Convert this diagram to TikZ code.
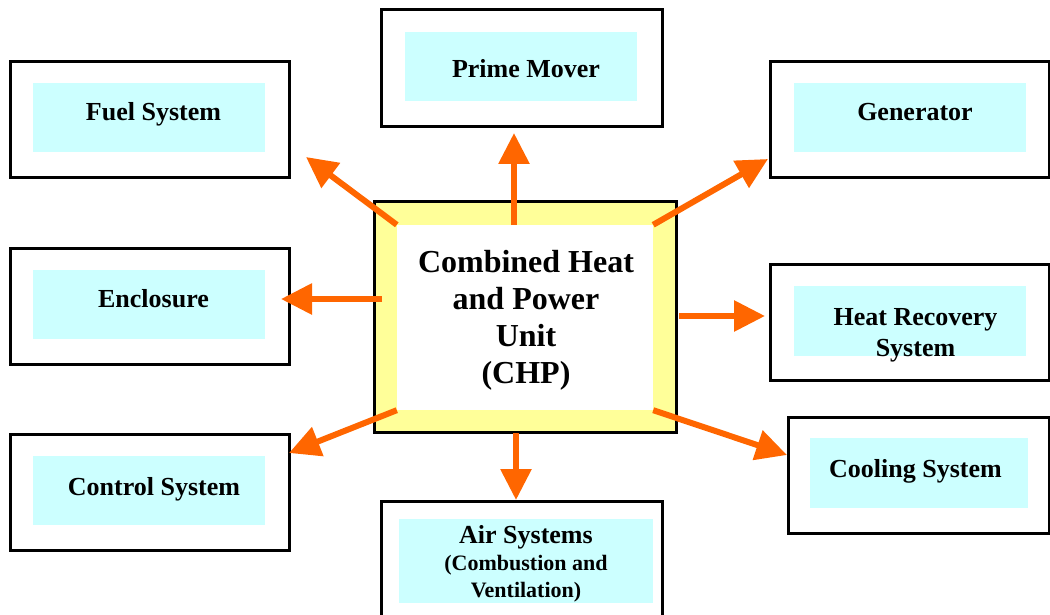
\documentclass[tikz,border=0pt]{standalone}
\usepackage{fontspec}
\setmainfont{Liberation Serif}
\usetikzlibrary{arrows.meta}
\definecolor{chporange}{HTML}{FF6600}
\definecolor{chpyellow}{HTML}{FFFF99}
\definecolor{chpcyan}{HTML}{CCFFFF}

\begin{document}
\begin{tikzpicture}[x=1pt, y=-1pt,
  frame/.style={draw, line width=3pt, fill=white, inner sep=0pt, minimum width=279pt, minimum height=116pt},
  panel/.style={fill=chpcyan, inner sep=0pt, minimum width=232pt, minimum height=69pt},
  lbl/.style={font=\fontsize{26}{31}\selectfont\bfseries, anchor=base, inner sep=0pt},
  flow/.style={chporange, line width=6pt, -{Triangle[length=31pt, width=30pt]}}]

  \useasboundingbox (0,0) rectangle (1050,615);

  % 中间的CHP
  \node[draw, line width=3pt, fill=chpyellow, inner sep=0pt, minimum width=302pt, minimum height=231pt] (chp) at (525,316.5) {};
  \node[fill=white, inner sep=0pt, minimum width=256pt, minimum height=185pt] (chpin) at (525,317.5) {};
  \node[font=\fontsize{32}{37}\selectfont\bfseries, align=center, inner sep=0pt] (chptxt) at (526,320) {Combined Heat\\and Power\\Unit\\(CHP)};

  % 周围八个框
  \node[frame] (fuelbox) at (149.5,120) {};
  \node[panel] (fuelbg) at (149,118) {};
  \node[lbl] (fuel) at (153.5,121) {Fuel System};

  \node[frame, minimum width=281pt, minimum height=117pt] (primebox) at (521.5,68.5) {};
  \node[panel] (primebg) at (521,66.5) {};
  \node[lbl] (prime) at (526,78) {Prime Mover};

  \node[frame] (genbox) at (909.5,120) {};
  \node[panel] (genbg) at (910,118) {};
  \node[lbl] (gen) at (915,121) {Generator};

  \node[frame] (encbox) at (149.5,306) {};
  \node[panel] (encbg) at (149,304) {};
  \node[lbl] (enc) at (153.5,307) {Enclosure};

  \node[frame] (heatbox) at (909.5,322) {};
  \node[panel, minimum height=70pt] (heatbg) at (910,321) {};
  \node[font=\fontsize{26}{31}\selectfont\bfseries, align=center, inner sep=0pt] (heat) at (915.5,335) {Heat Recovery\\System};

  \node[frame] (ctrlbox) at (149.5,492) {};
  \node[panel] (ctrlbg) at (149,490) {};
  \node[lbl] (ctrl) at (154,495) {Control System};

  \node[frame, minimum width=261pt] (coolbox) at (918.5,475) {};
  \node[panel, minimum width=218pt, minimum height=70pt] (coolbg) at (919,473) {};
  \node[lbl] (cool) at (915.5,477) {Cooling System};

  \node[frame, minimum width=281pt] (airbox) at (521.5,559) {};
  \node[panel, minimum width=254pt, minimum height=84pt] (airbg) at (526,561) {};
  \node[font=\fontsize{26}{31}\selectfont\bfseries, align=center, inner sep=0pt] (air) at (526,564)
    {Air Systems\\[-4pt]\fontsize{22}{26}\selectfont (Combustion and\\[-4pt]\fontsize{22}{26}\selectfont Ventilation)};

  % 箭头
  \coordinate (tfuel) at (306,157);
  \coordinate (sprime) at (514,225);
  \coordinate (tprime) at (514,133);
  \coordinate (tgen) at (768,159);
  \coordinate (senc) at (382,299);
  \coordinate (tenc) at (281,299);
  \coordinate (sheat) at (679,316);
  \coordinate (theat) at (765,316);
  \coordinate (tctrl) at (289,453);
  \coordinate (tcool) at (787,455);
  \coordinate (sair) at (516,433);
  \coordinate (tair) at (516,500);

  \draw[flow] (chpin.north west) -- (tfuel);
  \draw[flow] (sprime) -- (tprime);
  \draw[flow] (chpin.north east) -- (tgen);
  \draw[flow] (senc) -- (tenc);
  \draw[flow] (sheat) -- (theat);
  \draw[flow] (chpin.south west) -- (tctrl);
  \draw[flow] (chpin.south east) -- (tcool);
  \draw[flow] (sair) -- (tair);
\end{tikzpicture}
\end{document}
